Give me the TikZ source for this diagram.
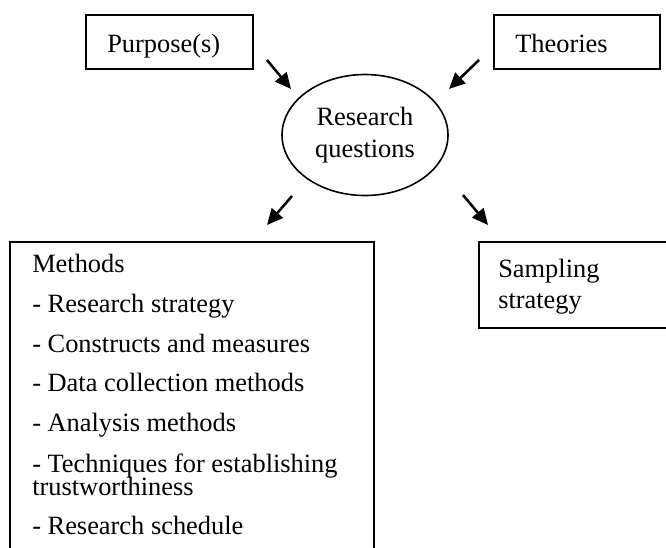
\documentclass[tikz,border=0pt]{standalone}
\usepackage{fontspec}
\setmainfont{Liberation Serif}
\usetikzlibrary{arrows.meta,shapes.geometric,calc}

% one drawing unit = 0.75pt
\tikzset{
  box/.style={draw, line width=1.4pt, rectangle, inner sep=0pt},
  bubble/.style={draw, line width=1.2pt, ellipse, inner sep=0pt,
    minimum width=124.5pt, minimum height=90.75pt, align=center,
    font=\fontsize{19.8pt}{24pt}\selectfont},
  label/.style={anchor=base west, inner sep=0pt,
    font=\fontsize{19.8pt}{23.5pt}\selectfont},
  flow/.style={line width=1.9pt, -{Triangle[length=12pt,width=11pt]}},
}

\begin{document}
\begin{tikzpicture}[x=0.75pt, y=-0.75pt]
  % fixed canvas; boxes running past the edge are cut off
  \path[use as bounding box, clip] (0,0) rectangle (666,547);

  % top inputs
  \node[box, anchor=north west, minimum width=125.25pt, minimum height=40.5pt] (purpose) at (85,14) {};
  \node[label] (purposetext) at ($(purpose.north west)+(22,38)$) {Purpose(s)};

  \node[box, anchor=north west, minimum width=124.5pt, minimum height=40.5pt] (theories) at (493,14) {};
  \node[label] (theoriestext) at ($(theories.north west)+(22,38)$) {Theories};

  % central question
  \node[bubble] (rq) at (365,135) {Research\\questions};

  % methods box (runs off the bottom)
  \node[box, anchor=north west, minimum width=273pt, minimum height=270pt] (methods) at (9,241) {};
  \node[label] (m0) at ($(methods.north west)+(23,31)$) {Methods};
  \node[label] (m1) at ($(methods.north west)+(23,71)$) {- Research strategy};
  \node[label] (m2) at ($(methods.north west)+(23,111)$) {- Constructs and measures};
  \node[label] (m3) at ($(methods.north west)+(23,150)$) {- Data collection methods};
  \node[label] (m4) at ($(methods.north west)+(23,190)$) {- Analysis methods};
  \node[label] (m5) at ($(methods.north west)+(23,231)$) {- Techniques for establishing};
  \node[label] (m5b) at ($(methods.north west)+(23,254)$) {trustworthiness};
  \node[label] (m6) at ($(methods.north west)+(23,293)$) {- Research schedule};

  % sampling box (runs off the right edge)
  \node[box, anchor=north west, minimum width=195pt, minimum height=64.5pt] (sampling) at (478,241) {};
  \node[label] (s1) at ($(sampling.north west)+(20,36)$) {Sampling};
  \node[label] (s2) at ($(sampling.north west)+(20,67)$) {strategy};

  % free-standing arrows
  \coordinate (p-start) at (267,60);
  \coordinate (p-end)   at (291,89);
  \coordinate (t-start) at (479,60);
  \coordinate (t-end)   at (449,89);
  \coordinate (m-start) at (292,196);
  \coordinate (m-end)   at (267,225);
  \coordinate (s-start) at (463,195);
  \coordinate (s-end)   at (488,225);

  \draw[flow] (p-start) -- (p-end);
  \draw[flow] (t-start) -- (t-end);
  \draw[flow] (m-start) -- (m-end);
  \draw[flow] (s-start) -- (s-end);
\end{tikzpicture}
\end{document}
